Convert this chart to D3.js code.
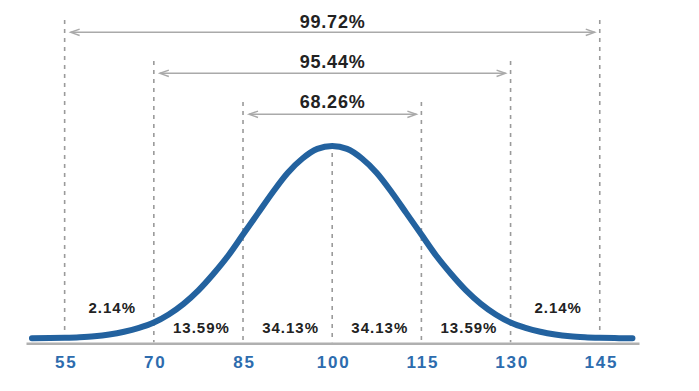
<!DOCTYPE html>
<html>
<head>
<meta charset="utf-8">
<script src="https://cdn.jsdelivr.net/npm/d3@7"></script>
<style>
  body { margin: 0; background: #fff; }
  text { font-family: "Liberation Sans", Arial, sans-serif; font-weight: bold; }
</style>
</head>
<body>
<script>
// values
const tickValues = [55, 70, 85, 100, 115, 130, 145];
const regionLabels = ["2.14%", "13.59%", "34.13%", "34.13%", "13.59%", "2.14%"];
const bandLabels = ["99.72%", "95.44%", "68.26%"];   // outer to inner
const bandLow = [55, 70, 85];
const bandHigh = [145, 130, 115];

// curve height, percent of peak
const curveX = [49.5, 52.5, 55, 57.5, 60, 62.5, 65, 67.5, 70, 72.5, 75, 77.5, 80, 82.5, 85, 87.5, 90, 92.5, 95, 97.5,
                100, 102.5, 105, 107.5, 110, 112.5, 115, 117.5, 120, 122.5, 125, 127.5, 130, 132.5, 135, 137.5, 140, 142.5, 145, 147.5, 150.5];
const curveY = [0.1, 0.2, 0.4, 0.7, 1.2, 2.1, 3.5, 5.5, 8.3, 12.5, 18, 25, 33.5, 43, 54, 65, 76, 86, 93.5, 98.5,
                100, 98.5, 93.5, 86, 76, 65, 54, 43, 33.5, 25, 18, 12.5, 8.3, 5.5, 3.5, 2.1, 1.2, 0.7, 0.4, 0.2, 0.1];

let width = 699, height = 391;
let svg = null;
let x, y = null;
const axisY = 343.3;

appendSvg("body");
setupScales();
appendGuides();
appendBands();
appendCurve();
appendAxis();
appendRegionLabels();

function appendSvg(domElement) {
  svg = d3.select(domElement).append("svg")
    .attr("width", width)
    .attr("height", height);
}

function setupScales() {
  x = d3.scaleLinear().domain([48.5, 151.6]).range([26, 639]);
  y = d3.scaleLinear().domain([0, 100]).range([338.5, 146]);
}

// dotted verticals
function appendGuides() {
  const tops = {};
  bandLow.forEach((v, i) => { tops[v] = 20 + i * 41; tops[bandHigh[i]] = 20 + i * 41; });
  tops[100] = y(100) + 7;

  svg.selectAll(".guide")
    .data(tickValues)
    .enter().append("line")
    .attr("class", "guide")
    .attr("x1", d => x(d)).attr("x2", d => x(d))
    .attr("y1", d => tops[d])
    .attr("y2", axisY - 1)
    .style("stroke", "#9a9a9a")
    .style("stroke-width", 1.6)
    .style("stroke-dasharray", "4,5");
}

function appendBands() {
  const bands = bandLabels.map((label, i) => ({label: label, lo: bandLow[i], hi: bandHigh[i], level: i}));
  const g = svg.selectAll(".band").data(bands).enter().append("g").attr("class", "band");

  g.append("line")
    .attr("x1", d => x(d.lo) + 6).attr("x2", d => x(d.hi) - 5)
    .attr("y1", d => 32.3 + d.level * 41).attr("y2", d => 32.3 + d.level * 41)
    .style("stroke", "#aaa").style("stroke-width", 1.4);

  g.append("path")
    .attr("d", d => {
      const ay = 32.3 + d.level * 41, l = x(d.lo) + 6, r = x(d.hi) - 5;
      return `M${l + 9},${ay - 3.2}L${l},${ay}L${l + 9},${ay + 3.2}` +
             `M${r - 9},${ay - 3.2}L${r},${ay}L${r - 9},${ay + 3.2}`;
    })
    .style("fill", "none").style("stroke", "#aaa").style("stroke-width", 1.4);

  g.append("text")
    .attr("x", x(100) + 0.4)
    .attr("y", d => 28.3 + d.level * 40)
    .attr("text-anchor", "middle")
    .style("font-size", "18px")
    .style("letter-spacing", "0.8px")
    .style("fill", "#222")
    .text(d => d.label);
}

function appendCurve() {
  const line = d3.line()
    .x((d, i) => x(curveX[i]))
    .y(d => y(d))
    .curve(d3.curveMonotoneX);

  svg.append("path")
    .datum(curveY)
    .attr("d", line)
    .style("fill", "none")
    .style("stroke", "#23629f")
    .style("stroke-width", 6)
    .style("stroke-linecap", "round");
}

function appendAxis() {
  const ax = svg.append("g")
    .attr("transform", `translate(0, ${axisY})`)
    .call(d3.axisBottom(x).tickValues(tickValues).tickSize(0).tickSizeOuter(0));

  ax.select(".domain").style("stroke", "#b0b0b0").style("stroke-width", 2.6);
  ax.selectAll("text")
    .attr("y", 25)
    .attr("dy", 0)
    .attr("dx", 1)
    .style("font-family", "'Liberation Sans', Arial, sans-serif")
    .style("font-weight", "bold")
    .style("font-size", "17px")
    .style("letter-spacing", "1.8px")
    .style("fill", "#2d6cae");
}

function appendRegionLabels() {
  svg.selectAll(".region")
    .data(regionLabels)
    .enter().append("text")
    .attr("class", "region")
    .attr("x", (d, i) => x((tickValues[i] + tickValues[i + 1]) / 2) + 3)
    .attr("y", (d, i) => (i === 0 || i === 5) ? 313.3 : 332.7)
    .attr("text-anchor", "middle")
    .style("font-size", "15px")
    .style("letter-spacing", "1px")
    .style("fill", "#222")
    .text(d => d);
}
</script>
</body>
</html>
